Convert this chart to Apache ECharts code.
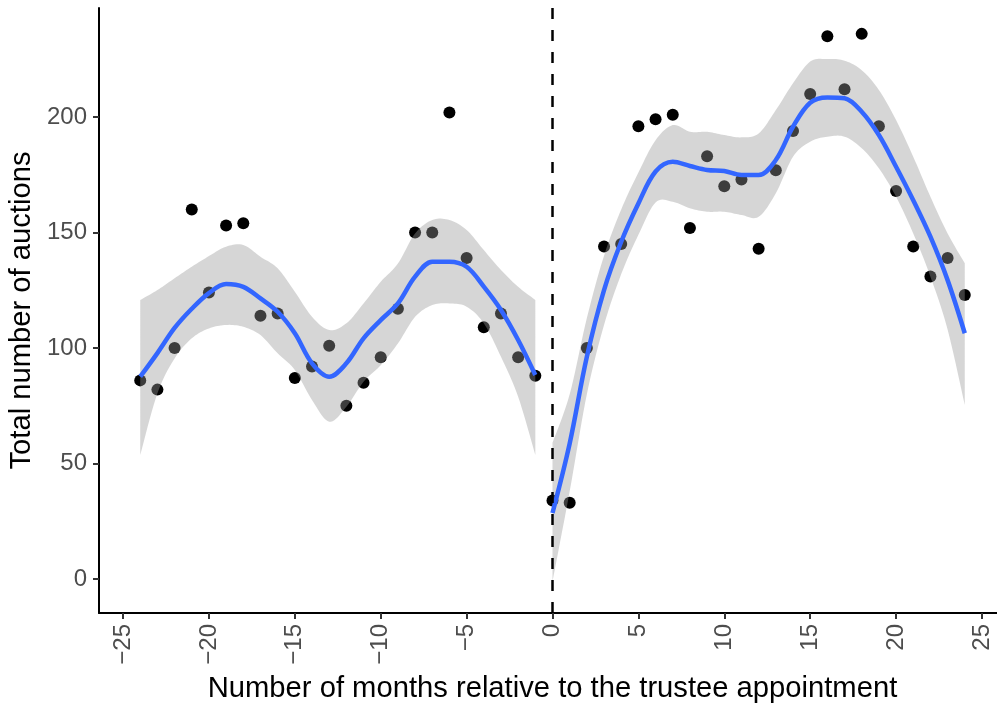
<!DOCTYPE html>
<html>
<head>
<meta charset="utf-8">
<script src="https://cdn.jsdelivr.net/npm/echarts@6/dist/echarts.min.js"></script>
<style>
  html, body { margin: 0; padding: 0; background: #ffffff; }
  #chart { width: 997px; height: 706px; }
</style>
</head>
<body>
<div id="chart"></div>
<script>
// Monthly auction counts around the trustee appointment (month 0)
const monthsBefore = [-24, -23, -22, -21, -20, -19, -18, -17, -16, -15, -14, -13,
                      -12, -11, -10, -9, -8, -7, -6, -5, -4, -3, -2, -1];
const auctionsBefore = [86, 82, 100, 160, 124, 153, 154, 114, 115, 87, 92, 101,
                        75, 85, 96, 117, 150, 150, 202, 139, 109, 115, 96, 88];

const monthsAfter = [0, 1, 2, 3, 4, 5, 6, 7, 8, 9, 10, 11, 12,
                     13, 14, 15, 16, 17, 18, 19, 20, 21, 22, 23, 24];
const auctionsAfter = [34, 33, 100, 144, 145, 196, 199, 201, 152, 183, 170, 173, 143,
                       177, 194, 210, 235, 212, 236, 196, 168, 144, 131, 139, 123];

// Loess fit with its 95% confidence band, evaluated at each month
const fitBefore = [87.6, 97.8, 108.7, 117, 123.8, 127.7, 126.5, 121.5, 115.7, 106.4, 93.4, 87.6,
                   93.4, 104.2, 112.1, 119.3, 130.9, 137.4, 137.4, 135.2, 126.6, 116.5, 103.5, 88.3];
const upperBefore = [120.8, 125.1, 130.2, 135.2, 139.8, 143.9, 144.6, 139.5, 134.5, 124.4, 113.5, 107.8,
                     110.7, 119.3, 128.7, 136.6, 149.6, 155.4, 155.4, 151.1, 142.4, 133.8, 126.5, 120.8];
const lowerBefore = [53.7, 80.4, 95.5, 104.2, 108.5, 110, 109.2, 105.6, 97.7, 90.5, 77.5, 68.1,
                     74.6, 85.4, 92.6, 102, 113.5, 118.6, 119.3, 117.9, 110.7, 96.2, 78.9, 53.7];

const fitAfter = [28.6, 58.7, 96.2, 125.1, 146, 162.6, 176.4, 180.6, 178.8, 177.1, 176.6, 174.9, 174.9,
                  181.4, 195.8, 206.2, 208.5, 208.1, 202.3, 192.2, 178.5, 164, 148.2, 129.4, 106.4];
const upperAfter = [59, 80, 113, 140, 160, 176, 190, 196.5, 193.6, 193.6, 192.2, 191.2, 192.9,
                    203, 214.6, 224, 225.1, 224.4, 220.3, 211.7, 198.7, 182.8, 165.5, 149.6, 136.7];
const lowerAfter = [-1, 38, 80, 110, 132, 149, 163, 163.3, 160.5, 159, 159, 157.6, 156.8,
                    167, 182.8, 189.3, 191.5, 191.5, 186.5, 177.8, 165.5, 149.6, 130.9, 108, 75.3];

const xTicks = [-25, -20, -15, -10, -5, 0, 5, 10, 15, 20, 25];
const yTicks = [0, 50, 100, 150, 200];

const pairs = (xs, ys) => xs.map((x, i) => [x, ys[i]]);

const textFont = 'Liberation Sans, Arial, sans-serif';
const ribbonColor = 'rgba(153,153,153,0.4)';
const fitColor = '#3366FF';

// Catmull-Rom pass through pixel points, giving a smooth outline for the band
function smoothPoints(pts, steps) {
  const out = [];
  const n = pts.length;
  for (let i = 0; i < n - 1; i++) {
    const p0 = pts[Math.max(i - 1, 0)];
    const p1 = pts[i];
    const p2 = pts[i + 1];
    const p3 = pts[Math.min(i + 2, n - 1)];
    for (let s = 0; s < steps; s++) {
      const t = s / steps, t2 = t * t, t3 = t2 * t;
      const f = (a, b, c, d) => 0.5 * ((2 * b) + (-a + c) * t +
        (2 * a - 5 * b + 4 * c - d) * t2 + (-a + 3 * b - 3 * c + d) * t3);
      out.push([f(p0[0], p1[0], p2[0], p3[0]), f(p0[1], p1[1], p2[1], p3[1])]);
    }
  }
  out.push(pts[n - 1]);
  return out;
}

function ribbonSeries(xs, lo, hi) {
  return {
    type: 'custom',
    silent: true,
    z: 3,
    data: xs.map((x, i) => [x, lo[i], hi[i]]),
    encode: { x: 0, y: [1, 2] },
    renderItem: function (params, api) {
      if (params.dataIndex !== 0) return null;
      const up = xs.map((x, i) => api.coord([x, hi[i]]));
      const dn = xs.map((x, i) => api.coord([x, lo[i]]));
      const outline = smoothPoints(up, 10).concat(smoothPoints(dn, 10).reverse());
      return {
        type: 'polygon',
        shape: { points: outline },
        style: { fill: ribbonColor, stroke: null }
      };
    }
  };
}

function fitSeries(xs, ys) {
  return {
    type: 'line', data: pairs(xs, ys), smooth: 0.35, symbol: 'none',
    lineStyle: { color: fitColor, width: 4.5 }, silent: true, z: 4
  };
}

const chart = echarts.init(document.getElementById('chart'), null, { renderer: 'canvas' });

chart.setOption({
  animation: false,
  backgroundColor: '#ffffff',
  grid: {
    left: 99, top: 8, width: 907, height: 605,
    containLabel: false, outerBoundsMode: 'none'
  },
  xAxis: {
    type: 'value', min: -26.4, max: 26.4,
    name: 'Number of months relative to the trustee appointment',
    nameLocation: 'middle', nameGap: 61,
    nameTextStyle: { fontFamily: textFont, fontSize: 29.2, color: '#000000' },
    axisLine: { show: true, onZero: false, lineStyle: { color: '#000000', width: 2 } },
    axisTick: { show: true, length: 6, customValues: xTicks, lineStyle: { color: '#333333', width: 2 } },
    axisLabel: {
      customValues: xTicks, rotate: 90, margin: 11,
      fontFamily: textFont, fontSize: 24, color: '#4D4D4D',
      formatter: v => String(v).replace('-', '\u2212')
    },
    splitLine: { show: false }
  },
  yAxis: {
    type: 'value', min: -14.7, max: 247.2,
    name: 'Total number of auctions',
    nameLocation: 'middle', nameGap: 62,
    nameTextStyle: { fontFamily: textFont, fontSize: 29.2, color: '#000000' },
    axisLine: { show: true, onZero: false, lineStyle: { color: '#000000', width: 2 } },
    axisTick: { show: true, length: 6, customValues: yTicks, lineStyle: { color: '#333333', width: 2 } },
    axisLabel: {
      customValues: yTicks, margin: 12,
      fontFamily: textFont, fontSize: 24, color: '#4D4D4D'
    },
    splitLine: { show: false }
  },
  series: [
    {
      type: 'scatter', data: pairs(monthsBefore, auctionsBefore),
      symbolSize: 12, itemStyle: { color: '#000000', opacity: 1 }, z: 2
    },
    {
      type: 'scatter', data: pairs(monthsAfter, auctionsAfter),
      symbolSize: 12, itemStyle: { color: '#000000', opacity: 1 }, z: 2,
      markLine: {
        silent: true, symbol: 'none', label: { show: false },
        lineStyle: { color: '#000000', width: 2.5, type: [11, 11] },
        data: [{ xAxis: 0 }]
      }
    },
    ribbonSeries(monthsBefore, lowerBefore, upperBefore),
    ribbonSeries(monthsAfter, lowerAfter, upperAfter),
    fitSeries(monthsBefore, fitBefore),
    fitSeries(monthsAfter, fitAfter)
  ]
});
</script>
</body>
</html>
